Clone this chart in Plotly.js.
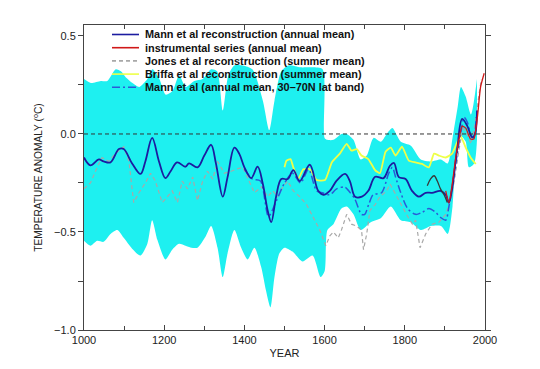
<!DOCTYPE html>
<html>
<head>
<meta charset="utf-8">
<script src="https://cdn.plot.ly/plotly-3.0.1.min.js"></script>
<style>html,body{margin:0;padding:0;background:#fff;}#chart{width:540px;height:369px;}</style>
</head>
<body>
<div id="chart"></div>
<script>
// ---- Data ----
const mannYears = [1000,1016,1037,1049,1066,1087,1099,1120,1141,1153,1170,1187,1203,1216,1232,1253,1262,1283,1300,1317,1329,1346,1358,1375,1387,1400,1417,1433,1446,1458,1467,1479,1492,1508,1522,1538,1563,1584,1597,1613,1630,1651,1663,1676,1693,1709,1726,1747,1763,1773,1785,1802,1818,1835,1852,1868,1889,1902,1910,1918,1931,1943,1956,1968,1975,1980];
const mannVals  = [-0.12,-0.16,-0.13,-0.14,-0.145,-0.077,-0.077,-0.15,-0.204,-0.14,-0.02,-0.14,-0.225,-0.19,-0.145,-0.167,-0.15,-0.17,-0.11,-0.055,-0.15,-0.32,-0.22,-0.07,-0.10,-0.17,-0.225,-0.167,-0.255,-0.39,-0.45,-0.32,-0.23,-0.23,-0.184,-0.24,-0.157,-0.29,-0.31,-0.29,-0.238,-0.204,-0.24,-0.32,-0.32,-0.29,-0.218,-0.225,-0.162,-0.148,-0.22,-0.23,-0.29,-0.32,-0.30,-0.30,-0.29,-0.31,-0.35,-0.28,-0.07,0.077,0.04,-0.017,0.0,0.12];

const instYears = [1902,1910,1918,1927,1935,1943,1952,1964,1972,1981,1989,1998];
const instVals  = [-0.29,-0.35,-0.26,-0.12,-0.03,0.04,0.03,-0.026,-0.026,0.085,0.24,0.31];

const instEarlyYears = [1856,1864,1873,1881,1889,1898,1906];
const instEarlyVals  = [-0.264,-0.23,-0.213,-0.24,-0.28,-0.31,-0.35];

const jonesYears = [1000,1016,1033,1045,1062,1078,1099,1112,1124,1137,1153,1166,1178,1195,1208,1220,1233,1245,1258,1271,1283,1296,1308,1321,1333,1350,1367,1379,1396,1412,1425,1442,1458,1471,1483,1496,1508,1522,1538,1555,1572,1588,1603,1613,1622,1634,1642,1655,1667,1680,1692,1697,1705,1713,1726,1738,1755,1763,1775,1790,1807,1819,1827,1838,1852,1868,1885,1902,1915,1925,1935,1945,1955,1965,1975,1985,1991];
const jonesVals  = [-0.28,-0.25,-0.17,-0.12,-0.14,-0.10,-0.065,-0.14,-0.35,-0.30,-0.25,-0.20,-0.24,-0.35,-0.32,-0.29,-0.35,-0.24,-0.28,-0.22,-0.34,-0.24,-0.19,-0.23,-0.14,-0.20,-0.19,-0.18,-0.17,-0.24,-0.30,-0.27,-0.32,-0.29,-0.32,-0.27,-0.24,-0.29,-0.32,-0.36,-0.425,-0.49,-0.57,-0.52,-0.50,-0.53,-0.49,-0.41,-0.46,-0.47,-0.49,-0.59,-0.51,-0.39,-0.36,-0.32,-0.29,-0.255,-0.30,-0.36,-0.42,-0.46,-0.44,-0.58,-0.51,-0.46,-0.45,-0.41,-0.33,-0.22,-0.08,0.03,0.0,-0.05,0.05,0.20,0.28];

const briffaYears = [1500,1505,1515,1522,1534,1547,1563,1580,1601,1618,1638,1655,1667,1680,1692,1709,1726,1738,1752,1765,1777,1793,1810,1827,1843,1860,1873,1885,1902,1918,1931,1939,1952,1964,1977];
const briffaVals  = [-0.17,-0.136,-0.128,-0.17,-0.23,-0.18,-0.18,-0.235,-0.235,-0.145,-0.10,-0.05,-0.085,-0.077,-0.11,-0.128,-0.185,-0.20,-0.09,-0.07,-0.11,-0.065,-0.136,-0.145,-0.153,-0.17,-0.10,-0.11,-0.12,-0.10,-0.04,-0.01,-0.07,-0.12,-0.153];

const bandYears = [1400,1420,1440,1460,1480,1500,1520,1540,1560,1580,1595,1613,1630,1650,1660,1675,1692,1700,1710,1721,1742,1760,1769,1777,1790,1807,1827,1843,1860,1877,1889,1902,1910,1927,1940,1948,1956,1964,1972,1978];
const bandVals  = [-0.18,-0.23,-0.24,-0.42,-0.34,-0.25,-0.20,-0.25,-0.18,-0.29,-0.30,-0.31,-0.28,-0.27,-0.29,-0.33,-0.41,-0.41,-0.36,-0.31,-0.30,-0.20,-0.17,-0.22,-0.30,-0.38,-0.41,-0.40,-0.38,-0.40,-0.425,-0.44,-0.37,-0.15,0.01,0.085,0.06,0.0,-0.02,0.085];

const upperYears = [1000,1017,1042,1058,1079,1092,1104,1121,1138,1158,1171,1188,1204,1221,1237,1254,1275,1296,1317,1332,1346,1360,1375,1396,1420,1446,1462,1475,1492,1510,1540,1570,1595,1600,1607,1622,1642,1655,1672,1690,1705,1722,1740,1755,1769,1790,1815,1840,1865,1890,1907,1919,1932,1940,1952,1965,1980];
const upperVals  = [0.28,0.26,0.27,0.27,0.33,0.32,0.29,0.26,0.24,0.28,0.33,0.28,0.20,0.22,0.30,0.24,0.27,0.28,0.33,0.32,0.12,0.30,0.35,0.35,0.33,0.17,0.02,0.17,0.32,0.35,0.34,0.34,0.33,-0.02,-0.03,-0.03,0.0,0.0,-0.03,-0.13,-0.11,-0.02,-0.04,0.0,0.03,-0.04,-0.06,-0.13,-0.14,-0.13,-0.15,-0.02,0.14,0.24,0.19,0.10,0.28];

const lowerYears = [1000,1016,1033,1049,1066,1083,1099,1120,1141,1158,1170,1183,1203,1220,1237,1253,1267,1283,1304,1317,1333,1346,1358,1375,1392,1408,1425,1442,1454,1465,1475,1487,1500,1520,1545,1570,1590,1600,1607,1622,1642,1655,1672,1690,1715,1740,1765,1790,1815,1840,1865,1890,1907,1919,1927,1940,1952,1960,1973,1980];
const lowerVals  = [-0.545,-0.57,-0.545,-0.55,-0.51,-0.49,-0.53,-0.585,-0.62,-0.56,-0.44,-0.54,-0.64,-0.59,-0.56,-0.57,-0.58,-0.58,-0.52,-0.47,-0.58,-0.73,-0.61,-0.49,-0.58,-0.64,-0.58,-0.68,-0.80,-0.885,-0.73,-0.61,-0.58,-0.60,-0.65,-0.62,-0.73,-0.70,-0.49,-0.46,-0.38,-0.37,-0.41,-0.49,-0.45,-0.43,-0.37,-0.44,-0.45,-0.49,-0.47,-0.47,-0.51,-0.37,-0.12,-0.01,-0.04,-0.17,-0.15,-0.03];

const legendNames = [
  'Mann et al reconstruction (annual mean)',
  'instrumental series (annual mean)',
  'Jones et al reconstruction (summer mean)',
  'Briffa et al reconstruction (summer mean)',
  'Mann et al (annual mean, 30\u201370N lat band)'
];

// ---- Styles ----
const C_MANN = '#1c1ca0', C_INST = '#d01818', C_JONES = '#a8a8a8',
      C_BRIFFA = '#eeff48', C_BAND = '#1ef0f0', C_NB = '#2a5ad8', C_EARLY = '#383838';
const FONT = 'Liberation Sans, Arial, Helvetica, sans-serif';

const traces = [
  {x: lowerYears, y: lowerVals, mode:'lines', line:{width:0, color:C_BAND, shape:'spline', smoothing:0.7}, hoverinfo:'skip', showlegend:false},
  {x: upperYears, y: upperVals, mode:'lines', fill:'tonexty', fillcolor:C_BAND, line:{width:0, color:C_BAND, shape:'spline', smoothing:0.7}, hoverinfo:'skip', showlegend:false},
  {x: jonesYears, y: jonesVals, mode:'lines', name:legendNames[2], line:{color:C_JONES, width:1.2, dash:'4px,3px'}},
  {x: briffaYears, y: briffaVals, mode:'lines', name:legendNames[3], line:{color:C_BRIFFA, width:1.8, shape:'spline', smoothing:0.5}},
  {x: bandYears, y: bandVals, mode:'lines', name:legendNames[4], line:{color:C_NB, width:1.5, dash:'8px,3px,2px,3px', shape:'spline', smoothing:0.8}},
  {x: mannYears, y: mannVals, mode:'lines', name:legendNames[0], line:{color:C_MANN, width:1.8, shape:'spline', smoothing:1}},
  {x: instEarlyYears, y: instEarlyVals, mode:'lines', showlegend:false, line:{color:C_EARLY, width:1.3, shape:'spline'}},
  {x: instYears, y: instVals, mode:'lines', name:legendNames[1], line:{color:C_INST, width:1.3, shape:'spline', smoothing:0.6}}
];

// custom compact legend (paper coordinates)
const legStyles = [
  {color:C_MANN, dash:'solid'},
  {color:C_INST, dash:'solid'},
  {color:C_JONES, dash:'4px,3px'},
  {color:C_BRIFFA, dash:'solid'},
  {color:C_NB, dash:'8px,3px,2px,3px'}
];
const px2x = p => (p - 84) / 401;
const py2y = p => (330 - p) / 305;
const shapes = [
  {type:'line', xref:'paper', yref:'y', x0:0, x1:1, y0:0, y1:0, line:{color:'#333', width:1, dash:'4px,3px'}, layer:'above'}
];
const annotations = [];
legendNames.forEach((nm, i) => {
  const py = 34.5 + 13.2 * i;
  shapes.push({type:'line', xref:'paper', yref:'paper', x0:px2x(112), x1:px2x(139), y0:py2y(py), y1:py2y(py),
               line:{color:legStyles[i].color, width:1.6, dash:legStyles[i].dash}, layer:'above'});
  annotations.push({xref:'paper', yref:'paper', x:px2x(143), y:py2y(py), xanchor:'left', yanchor:'middle',
                    text:nm, showarrow:false, font:{family:FONT, size:10.9, weight:'bold', color:'#111'}});
});

const layout = {
  width:540, height:369,
  margin:{l:84, r:55, t:25, b:39, pad:0},
  paper_bgcolor:'#fff', plot_bgcolor:'#fff',
  showlegend:false,
  font:{family:FONT, size:11, color:'#222'},
  xaxis:{
    range:[1000,2000], tickmode:'linear', tick0:1000, dtick:200,
    ticks:'inside', ticklen:5, tickcolor:'#444', tickwidth:1,
    minor:{dtick:100, ticks:'inside', ticklen:4, tickcolor:'#444'},
    showline:true, linecolor:'#444', linewidth:1, mirror:'ticks',
    showgrid:false, zeroline:false,
    tickfont:{family:FONT, size:11, color:'#222'},
    title:{text:'YEAR', font:{family:FONT, size:11, color:'#222'}, standoff:4}
  },
  yaxis:{
    range:[-1,0.556], tickmode:'linear', tick0:-1, dtick:0.5, tickformat:'.1f',
    ticks:'outside', ticklen:5, tickcolor:'#444', tickwidth:1,
    minor:{dtick:0.25, ticks:'outside', ticklen:5, tickcolor:'#444'},
    showline:true, linecolor:'#444', linewidth:1, mirror:'ticks',
    showgrid:false, zeroline:false,
    tickfont:{family:FONT, size:11, color:'#222'},
    title:{text:'TEMPERATURE ANOMALY (<sup>o</sup>C)', font:{family:FONT, size:10.2, color:'#222'}, standoff:9}
  },
  shapes:shapes,
  annotations:annotations
};

Plotly.newPlot('chart', traces, layout, {displayModeBar:false, staticPlot:true});
</script>
</body>
</html>
